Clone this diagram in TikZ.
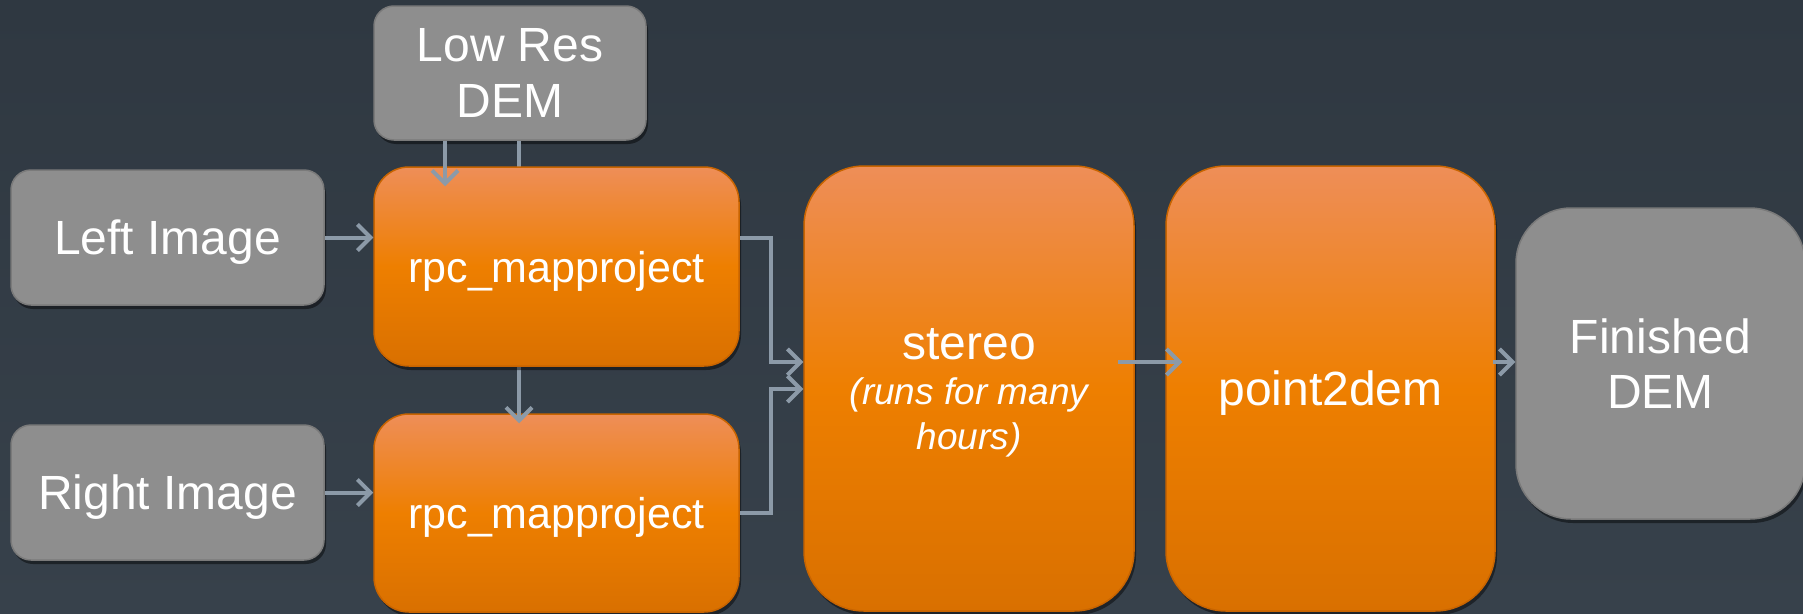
\documentclass[tikz,border=0pt]{standalone}
\usepackage{fontspec}
\setmainfont{Liberation Sans}
\usetikzlibrary{arrows.meta,shadows}
\definecolor{bgtop}{HTML}{2F3841}
\definecolor{bgbot}{HTML}{37414B}
\definecolor{gfill}{HTML}{8E8E8E}
\definecolor{gedge}{HTML}{7A7A7A}
\definecolor{otop}{HTML}{EE8E58}
\definecolor{omid}{HTML}{EE7F00}
\definecolor{obot}{HTML}{D97000}
\definecolor{oedge}{HTML}{C86400}
\definecolor{arrc}{HTML}{8C9AA8}
\newcommand{\smallit}{\fontsize{37}{45}\selectfont\itshape}
\begin{document}
\begin{tikzpicture}[x=1pt,y=-1pt,
  box/.style={rectangle, rounded corners=#1, align=center, text=white, inner sep=0pt,
    text depth=0pt, line width=1.5pt,
    drop shadow={shadow xshift=2pt,shadow yshift=-4pt,opacity=0.45,fill=black}},
  graybox/.style={box=#1, fill=gfill, draw=gedge, font=\fontsize{48}{56}\selectfont},
  orangebox/.style={box=#1, top color=otop, bottom color=obot, middle color=omid,
    draw=oedge, font=\fontsize{48}{56}\selectfont},
  arr/.style={draw=arrc, line width=4pt, -{Straight Barb[length=13pt,width=26pt]}},
]
\fill[top color=bgtop,bottom color=bgbot] (0,0) rectangle (1803,613);
\useasboundingbox (0,0) rectangle (1803,613);

\coordinate (xa) at (445,0);
\coordinate (xb) at (519,0);
\coordinate (j1) at (771,362);
\coordinate (j2) at (771,389);

\node[graybox=20pt, minimum width=272pt, minimum height=134pt] (lowres) at (510,73)
  {Low Res\\DEM};
\node[graybox=20pt, minimum width=313pt, minimum height=135pt] (left) at (167.5,237.5) {Left Image};
\node[graybox=20pt, minimum width=313pt, minimum height=135pt] (right) at (167.5,492.5) {Right Image};
\node[orangebox=35pt, minimum width=365pt, minimum height=198pt, font=\fontsize{43}{50}\selectfont] (rpc2) at (556.5,513) {rpc\_mapproject};

\draw[arr, shorten >=-10pt] (lowres.south -| xb) -- (rpc2.north -| xb);

\node[orangebox=35pt, minimum width=365pt, minimum height=199pt, font=\fontsize{43}{50}\selectfont] (rpc1) at (556.5,266.5) {rpc\_mapproject};
\node[orangebox=60pt, minimum width=330pt, minimum height=445pt, font=\fontsize{48}{45}\selectfont] (stereo) at (969,388.5)
  {stereo\\{\smallit (runs for many}\\{\smallit hours)}};
\node[orangebox=60pt, minimum width=329pt, minimum height=445pt] (p2d) at (1330.5,388.5) {point2dem};
\node[graybox=55pt, minimum width=289pt, minimum height=311pt, font=\fontsize{48}{55}\selectfont] (fin) at (1660.5,363.5)
  {Finished\\DEM};

\draw[arr, shorten >=-20pt] (lowres.south -| xa) -- (rpc1.north -| xa);
\draw[arr] (left.east) -- (left.east -| rpc1.west);
\draw[arr] (right.east) -- (right.east -| rpc2.west);
\draw[arr] (rpc1.east |- left.east) -| (j1) -- (j1 -| stereo.west);
\draw[arr] (rpc2.east) -| (j2) -- (j2 -| stereo.west);
\draw[arr, shorten <=-17pt, shorten >=-17pt] (stereo.east |- j1) -- (p2d.west |- j1);
\draw[arr, shorten <=-3pt] (p2d.east |- j1) -- (fin.west |- j1);
\end{tikzpicture}
\end{document}
